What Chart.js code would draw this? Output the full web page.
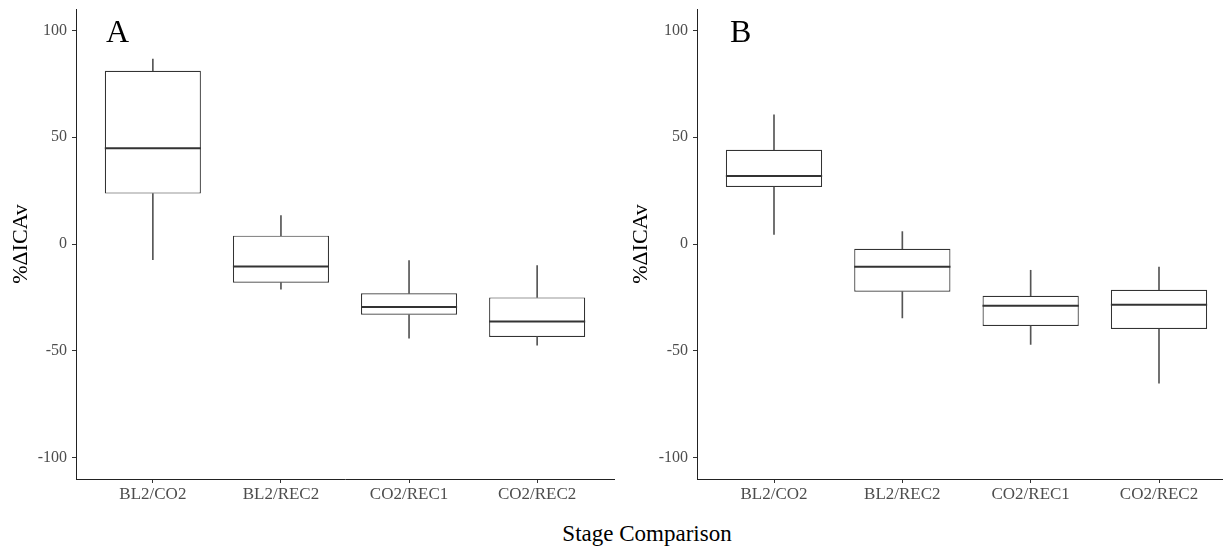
<!DOCTYPE html>
<html>
<head>
<meta charset="utf-8">
<script src="https://cdn.jsdelivr.net/npm/chart.js@4.4.0/dist/chart.umd.min.js"></script>
<style>
  body { margin: 0; overflow: hidden; background: #fff; width: 1223px; height: 548px; position: relative; font-family: "Liberation Serif", serif; }
  canvas { position: absolute; top: 0; }
  #chartA { left: 0; }
  #chartB { left: 620px; }
  .tag { position: absolute; font-size: 32px; line-height: 32px; color: #000; }
  #xtitle { position: absolute; left: 447px; width: 400px; top: 522px; text-align: center; font-size: 23px; line-height: 23px; color: #000; }
</style>
</head>
<body>
<canvas id="chartA" width="620" height="510"></canvas>
<canvas id="chartB" width="620" height="510"></canvas>
<div class="tag" style="left:106px; top:15px;">A</div>
<div class="tag" style="left:730px; top:15px;">B</div>
<div id="xtitle">Stage Comparison</div>
<script>
const categories = ['BL2/CO2', 'BL2/REC2', 'CO2/REC1', 'CO2/REC2'];
const yTicks = [-100, -50, 0, 50, 100];

// panel A: whisker ends, quartiles, medians
const aMin = [-7.3, -21.1, -44.1, -47.4];
const aQ1 = [23.6, -18.1, -33.1, -43.5];
const aMedian = [44.8, -10.5, -29.5, -36.3];
const aQ3 = [81.1, 3.9, -23.1, -25.0];
const aMax = [86.6, 13.3, -7.8, -10.1];

// panel B
const bMin = [4.5, -34.6, -47.0, -65.1];
const bQ1 = [26.7, -22.3, -38.4, -39.8];
const bMedian = [31.8, -10.6, -28.9, -28.4];
const bQ3 = [44.1, -2.2, -24.2, -21.4];
const bMax = [60.5, 5.8, -12.3, -10.8];

const serif = '"Liberation Serif", "Times New Roman", serif';

// draws the median line across each box
const medianLines = {
    id: 'medianLines',
    afterDatasetsDraw(chart) {
        const ds = chart.data.datasets[2];
        const meta = chart.getDatasetMeta(2);
        const yScale = chart.scales.y;
        const ctx = chart.ctx;
        ctx.save();
        ctx.strokeStyle = '#333';
        ctx.lineWidth = 2;
        meta.data.forEach((bar, i) => {
            const y = yScale.getPixelForValue(ds.median[i]);
            ctx.beginPath();
            ctx.moveTo(bar.x - bar.width / 2, y);
            ctx.lineTo(bar.x + bar.width / 2, y);
            ctx.stroke();
        });
        ctx.restore();
    }
};

function pairs(lo, hi) {
    return categories.map((c, i) => ({ x: i, y: [lo[i], hi[i]] }));
}

function makeChart(id, mins, q1, med, q3, maxs, yWidth, padRight) {
    const ctx = document.getElementById(id).getContext('2d');
    return new Chart(ctx, {
        type: 'bar',
        data: {
            datasets: [
                { label: 'lower whisker', data: pairs(mins, q1), backgroundColor: '#555', borderWidth: 0, barThickness: 1, grouped: false },
                { label: 'upper whisker', data: pairs(q3, maxs), backgroundColor: '#555', borderWidth: 0, barThickness: 1, grouped: false },
                {
                    label: 'box', data: pairs(q1, q3), median: med,
                    backgroundColor: '#fff', borderColor: '#333', borderWidth: 1.2, borderSkipped: false,
                    grouped: false, categoryPercentage: 1, barPercentage: 0.75
                }
            ]
        },
        options: {
            responsive: false,
            animation: false,
            layout: { padding: { left: 0, right: padRight, top: 9, bottom: 0 } },
            plugins: { legend: { display: false }, tooltip: { enabled: false } },
            scales: {
                x: {
                    type: 'linear', min: -0.6, max: 3.6, offset: false,
                    afterBuildTicks: s => { s.ticks = categories.map((c, i) => ({ value: i })); },
                    afterFit: s => { s.height = 31; s.paddingLeft = 0; s.paddingRight = 0; },
                    ticks: { callback: v => categories[v], color: '#4d4d4d', font: { family: serif, size: 17 }, padding: 1, autoSkip: false, maxRotation: 0 },
                    grid: { display: true, offset: false, drawOnChartArea: false, drawTicks: true, tickLength: 4, color: '#333' },
                    border: { display: true, color: '#222', width: 1 }
                },
                y: {
                    min: -110, max: 110,
                    afterBuildTicks: s => { s.ticks = yTicks.map(v => ({ value: v })); },
                    afterFit: s => { s.width = yWidth; s.paddingTop = 0; s.paddingBottom = 0; },
                    ticks: { color: '#4d4d4d', font: { family: serif, size: 16 }, padding: 5 },
                    grid: { drawOnChartArea: false, drawTicks: true, tickLength: 4, color: '#333' },
                    border: { display: true, color: '#222', width: 1 },
                    title: { display: true, text: '%ΔICAv', color: '#000', font: { family: serif, size: 22 }, padding: { top: 8, bottom: 0 } }
                }
            }
        },
        plugins: [medianLines]
    });
}

makeChart('chartA', aMin, aQ1, aMedian, aQ3, aMax, 76, 6);
makeChart('chartB', bMin, bQ1, bMedian, bQ3, bMax, 77, 4);
</script>
</body>
</html>
